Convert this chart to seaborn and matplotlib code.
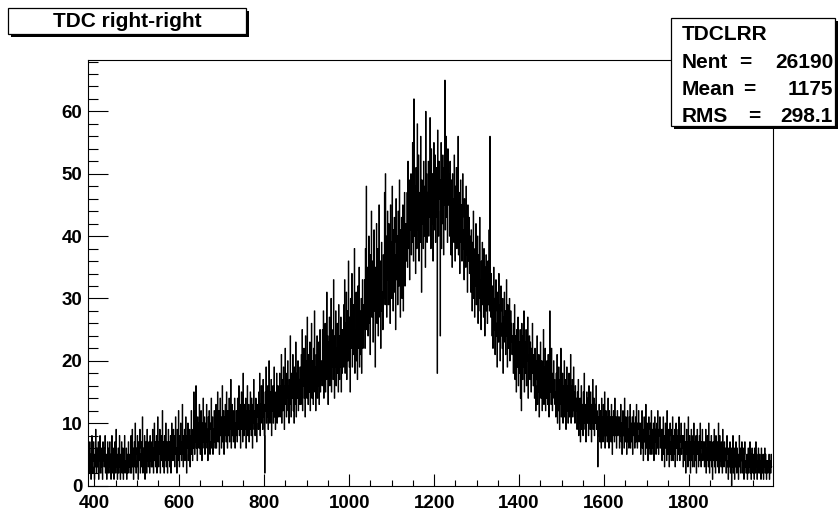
import numpy as np
import pandas as pd
import matplotlib
matplotlib.use("Agg")
import matplotlib.pyplot as plt
import seaborn as sns
from matplotlib.patches import Rectangle
from matplotlib.ticker import FixedLocator, MultipleLocator

# ---------------------------------------------------------------- data
first_channel = 385          # lower edge of the first TDC channel (1 channel per bin)

entries_per_channel = [
    # 385-434
    6,6,5,2,7,3,5,1,4,8, 3,2,6,7,4,1,5,3,9,4, 2,6,3,5,7,1,4,4,8,2, 5,3,6,2,1,7,4,5,3,6, 8,2,4,5,1,3,7,4,2,6,
    # 435-484
    3,7,2,5,1,4,8,3,2,6, 5,1,3,7,4,2,9,3,5,1, 4,6,2,3,8,4,1,5,3,7, 2,4,6,1,3,5,8,2,4,3, 6,1,5,3,2,7,4,3,5,2,
    # 485-534
    5,8,2,4,9,3,6,1,5,7, 3,10,4,2,6,5,8,3,1,7, 4,6,9,2,5,3,7,4,11,2, 6,5,3,8,1,4,7,5,2,9, 4,6,3,7,5,2,8,4,6,3,
    # 535-584
    7,3,9,5,2,6,10,4,7,3, 5,8,2,6,11,4,3,7,5,9, 2,6,8,4,5,12,3,7,6,2, 8,5,4,10,3,6,7,2,5,9, 4,7,3,6,8,2,5,10,4,6,
    # 585-634
    6,9,4,8,3,7,11,5,6,2, 9,7,4,12,6,3,8,5,10,6, 4,7,13,5,3,8,6,9,4,7, 11,5,2,8,6,10,4,7,5,9, 3,8,6,12,5,7,4,9,6,15,
    # 635-684
    8,5,12,7,16,6,9,4,11,8, 10,6,13,7,5,9,12,8,4,10, 7,14,9,6,11,5,8,10,7,13, 6,9,4,11,8,12,7,5,10,9, 14,6,8,11,5,9,7,12,8,6,
    # 685-734
    9,13,6,11,8,15,7,10,12,5, 9,14,8,11,6,10,16,7,9,12, 5,11,8,13,10,7,15,9,6,12, 10,8,14,7,11,9,17,6,10,13, 8,11,7,12,9,14,6,10,8,12,
    # 735-784
    11,7,14,9,12,16,8,10,13,6, 11,15,9,12,7,18,10,8,13,11, 9,14,6,12,10,16,8,11,13,7, 12,9,15,10,8,14,11,6,13,10, 17,9,12,8,11,14,10,7,13,11,
    # 785-834
    12,9,15,11,18,8,13,10,16,12, 14,9,17,11,13,8,2,15,12,19, 10,14,11,16,9,13,20,12,10,15, 11,17,8,14,12,16,10,13,19,11, 15,9,14,12,18,10,13,16,11,14,
    # 835-884
    14,18,11,16,13,21,10,15,17,12, 19,14,9,16,22,13,15,11,18,14, 20,12,16,10,17,15,24,13,11,18, 16,14,21,12,17,10,19,15,13,23, 11,16,18,14,20,12,15,17,13,19,
    # 885-934
    17,13,21,15,25,12,19,16,22,14, 18,11,24,17,20,14,27,16,13,21, 18,15,23,12,19,17,26,14,20,16, 13,22,18,28,15,19,12,21,17,24, 14,20,16,23,13,18,25,15,19,17,
    # 935-984
    20,16,25,18,28,14,22,19,26,15, 21,17,31,19,24,13,23,20,27,16, 22,18,30,15,25,19,21,17,33,20, 14,24,19,28,16,22,18,26,21,15, 29,20,17,24,19,27,15,23,18,25,
    # 985-1034
    24,19,29,22,33,18,26,21,31,17, 25,28,20,36,23,19,27,15,30,24, 22,34,19,26,21,29,24,38,18,25, 23,31,20,27,17,32,22,26,35,19, 28,24,21,30,18,27,33,22,25,29,
    # 1035-1084
    27,33,22,38,29,48,25,31,35,24, 30,40,26,34,21,37,29,44,27,32, 36,23,30,41,28,33,19,35,30,42, 26,32,38,24,29,45,31,27,36,22, 33,39,28,31,25,37,30,34,47,29,
    # 1085-1134
    50,31,40,27,37,44,33,29,42,35, 38,26,45,34,39,30,48,36,28,41, 35,43,31,37,25,46,39,33,40,29, 44,36,32,49,38,27,41,35,43,30, 37,45,28,39,34,47,32,38,42,36,
    # 1135-1184
    40,47,35,52,43,38,49,33,45,41, 50,37,44,39,55,42,36,62,46,40, 48,34,51,43,38,58,45,41,53,36, 47,43,39,56,44,31,49,42,46,38, 52,40,45,48,35,60,43,50,39,47,
    # 1185-1234
    46,52,40,49,43,59,45,38,54,47, 42,50,36,48,55,44,41,53,39,47, 51,43,18,57,45,40,52,46,49,24, 44,55,38,48,42,53,46,37,51,45, 65,41,49,56,43,47,39,54,45,50,
    # 1235-1284
    47,40,52,43,37,49,44,35,50,42, 46,39,53,41,36,48,43,51,38,45, 40,56,37,44,47,34,42,49,39,45, 36,43,50,38,41,33,46,40,44,35, 48,37,42,31,45,39,36,43,34,40,
    # 1285-1334
    37,31,41,34,28,39,33,44,30,36, 27,38,32,42,29,35,31,40,26,34, 37,30,43,28,33,25,36,32,39,29, 34,27,38,31,24,35,30,37,28,33, 26,36,29,32,41,28,56,31,27,34,
    # 1335-1384
    29,24,32,22,27,35,25,30,21,28, 33,24,26,19,31,27,23,34,25,29, 20,28,32,24,26,22,30,18,27,25, 31,23,28,21,26,33,24,19,29,25, 22,27,30,20,25,28,23,26,21,24,
    # 1385-1434
    23,18,26,21,29,17,24,20,15,25, 22,19,27,16,23,21,18,25,14,22, 12,26,20,17,24,19,28,15,21,23, 18,25,16,22,20,27,14,21,19,24, 17,23,20,15,22,18,26,19,16,21,
    # 1435-1484
    19,14,22,16,12,20,17,24,13,18, 15,21,11,19,16,23,14,17,20,12, 18,15,25,13,19,16,22,12,17,14, 20,16,13,21,18,11,17,28,15,19, 13,22,16,12,18,15,20,14,17,13,
    # 1485-1534
    15,11,18,13,21,10,16,12,19,14, 9,17,13,22,11,15,12,18,10,16, 14,20,11,17,13,9,15,19,12,16, 10,14,18,11,15,13,21,10,16,12, 17,11,14,19,12,15,10,16,13,14,
    # 1535-1584
    12,9,15,11,17,8,13,10,14,7, 12,16,9,11,13,8,15,10,18,11, 9,13,7,12,15,10,11,14,8,16, 10,12,9,15,11,7,13,10,17,9, 12,14,8,11,13,10,16,9,12,10,
    # 1585-1634
    3,11,8,13,9,7,12,10,6,14, 9,11,7,13,8,10,15,6,9,12, 8,11,7,10,14,9,6,12,8,11, 10,7,13,9,5,11,8,12,10,7, 14,9,8,11,6,10,12,8,9,11,
    # 1635-1684
    9,6,11,8,13,7,10,5,9,12, 8,10,6,14,9,7,11,8,5,10, 12,7,9,6,11,8,13,6,10,9, 7,11,5,9,12,8,10,6,9,11, 7,13,8,6,10,9,12,7,8,10,
    # 1685-1734
    8,5,10,7,12,6,9,4,8,11, 7,9,5,13,8,6,10,7,4,9, 11,6,8,5,10,7,12,5,9,8, 6,10,4,8,11,7,9,5,8,10, 6,12,7,5,9,8,11,6,7,9,
    # 1735-1784
    7,4,9,6,11,5,8,3,7,10, 6,8,4,12,7,5,9,6,3,8, 10,5,7,4,9,6,11,4,8,7, 5,9,3,7,10,6,8,4,7,9, 5,11,6,4,8,7,10,5,6,8,
    # 1785-1834
    6,3,8,5,10,4,7,2,6,9, 5,7,3,11,6,4,8,5,2,7, 9,4,6,3,8,5,10,3,7,6, 4,8,2,6,9,5,7,3,6,8, 4,10,5,3,7,6,9,4,5,7,
    # 1835-1884
    5,3,7,4,9,2,6,4,8,5, 3,10,6,2,7,4,5,8,3,6, 1,7,5,4,9,3,6,2,8,5, 4,7,3,6,10,2,5,8,4,6, 3,7,5,2,9,4,6,3,7,5,
    # 1885-1934
    4,6,2,5,8,3,4,1,6,5, 3,7,2,4,6,0,5,3,8,2, 4,6,1,5,3,7,4,2,6,3, 5,1,4,8,3,6,2,5,4,7, 2,3,6,4,1,5,7,3,4,2,
    # 1935-1984
    3,5,1,4,6,2,4,3,7,2, 5,1,3,6,4,2,5,3,1,6, 4,2,7,3,5,1,4,3,6,2, 3,5,2,4,1,6,3,4,2,5, 1,4,3,6,2,5,3,1,4,3,
    # 1985-1994
    2,4,3,5,1,3,4,2,5,3,
]

hist_title = "TDC right-right"
stats_name = "TDCLRR"
stats_keys = ["Nent", "Mean", "RMS"]
stats_values = ["26190", "1175", "298.1"]

x_range = (384, 1997)
y_range = (0, 68.25)
x_major_ticks = [400, 600, 800, 1000, 1200, 1400, 1600, 1800]

# ---------------------------------------------------------------- style
sns.set_theme(style="white")
plt.rcParams["font.family"] = ["Liberation Sans", "DejaVu Sans"]
plt.rcParams["font.weight"] = "bold"

W, H = 840, 514
fig = plt.figure(figsize=(W / 100, H / 100), dpi=100)
fig.patch.set_facecolor("white")


def fx(px):
    return px / W


def fy(py):
    return 1 - py / H


ax_l, ax_r, ax_t, ax_b = 87.5, 772.7, 60.0, 485.5
ax = fig.add_axes([fx(ax_l), fy(ax_b), (ax_r - ax_l) / W, (ax_b - ax_t) / H])
ax.set_facecolor("white")

# ---------------------------------------------------------------- histogram
n_channels = len(entries_per_channel)
df = pd.DataFrame({
    "channel": first_channel + np.arange(n_channels) + 0.5,
    "entries": entries_per_channel,
})
sns.histplot(data=df, x="channel", weights="entries",
             binwidth=1, binrange=(first_channel, first_channel + n_channels),
             element="step", fill=False, color="black", linewidth=0.8, ax=ax)

ax.set_xlim(*x_range)
ax.set_ylim(*y_range)
ax.set_xlabel("")
ax.set_ylabel("")

for side in ["left", "right", "top", "bottom"]:
    ax.spines[side].set_color("black")
    ax.spines[side].set_linewidth(0.8)
    ax.spines[side].set_visible(True)

ax.xaxis.set_major_locator(FixedLocator(x_major_ticks))
ax.xaxis.set_minor_locator(MultipleLocator(50))
ax.yaxis.set_major_locator(MultipleLocator(10))
ax.yaxis.set_minor_locator(MultipleLocator(2))

ax.tick_params(axis="both", which="both", direction="in", top=False, right=False,
               bottom=True, left=True, color="black", width=0.8, labelcolor="black")
ax.tick_params(axis="x", which="major", length=8.6, pad=7, labelsize=13.5)
ax.tick_params(axis="x", which="minor", length=4.3)
ax.tick_params(axis="y", which="major", length=14.4, pad=3.6, labelsize=13.5)
ax.tick_params(axis="y", which="minor", length=7.2)
for lab in ax.get_xticklabels() + ax.get_yticklabels():
    lab.set_fontweight("bold")


# ---------------------------------------------------------------- boxes with shadow
def shadow_box(x0, y0, x1, y1, off=3):
    fig.add_artist(Rectangle((fx(x0 + off), fy(y1 + off)), (x1 - x0) / W, (y1 - y0) / H,
                             transform=fig.transFigure, facecolor="black",
                             edgecolor="none", zorder=5))
    fig.add_artist(Rectangle((fx(x0), fy(y1)), (x1 - x0) / W, (y1 - y0) / H,
                             transform=fig.transFigure, facecolor="white",
                             edgecolor="black", linewidth=0.9, zorder=6))


# title box
shadow_box(8, 8, 246, 34, off=3)
fig.text(fx(127), fy(21.5), hist_title, ha="center", va="center",
         fontsize=15, fontweight="bold", color="black", zorder=7)

# statistics box
shadow_box(671, 18, 835, 126, off=3)
fig.text(fx(682), fy(34), stats_name, ha="left", va="center",
         fontsize=15, fontweight="bold", color="black", zorder=7)
eq_x = [745, 749, 754]
row_y = [62, 89.5, 117]
for key, val, ex, ry in zip(stats_keys, stats_values, eq_x, row_y):
    fig.text(fx(682), fy(ry), key, ha="left", va="center",
             fontsize=15, fontweight="bold", color="black", zorder=7)
    fig.text(fx(ex), fy(ry), "=", ha="center", va="center",
             fontsize=15, fontweight="bold", color="black", zorder=7)
    fig.text(fx(833), fy(ry), val, ha="right", va="center",
             fontsize=15, fontweight="bold", color="black", zorder=7)

fig.savefig("out.png", dpi=100, facecolor="white")
